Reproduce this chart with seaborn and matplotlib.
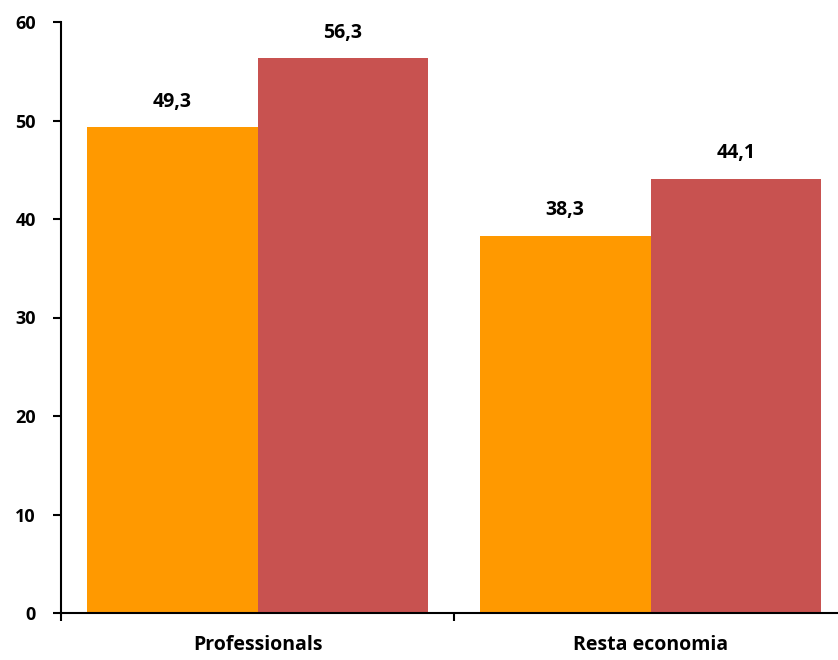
import pandas as pd
import matplotlib
matplotlib.use("Agg")
import matplotlib.pyplot as plt
import seaborn as sns

# chart data
categories = ["Professionals", "Resta economia"]
series = ["Sèrie 1", "Sèrie 2"]
values_s1 = [49.3, 38.3]
values_s2 = [56.3, 44.1]
colors = ["#FF9900", "#C85250"]

df = pd.DataFrame({
    "categoria": categories * 2,
    "serie": [series[0]] * 2 + [series[1]] * 2,
    "valor": values_s1 + values_s2,
})

sns.set_style("ticks", {"text.color": "black", "xtick.color": "black",
                        "ytick.color": "black", "axes.edgecolor": "black"})
plt.rcParams["font.family"] = ["Open Sans", "DejaVu Sans"]

fig = plt.figure(figsize=(8.38, 6.6), dpi=100)
ax = fig.add_axes([61 / 838, 47 / 660, 786 / 838, 591 / 660])

sns.barplot(data=df, x="categoria", y="valor", hue="serie", palette=colors,
            width=0.87, saturation=1, linewidth=0, ax=ax, legend=False)

for p in ax.patches:
    h = p.get_height()
    if h > 0:
        ax.text(p.get_x() + p.get_width() / 2, h + 1.6, f"{h:.1f}".replace(".", ","),
                ha="center", va="bottom", fontsize=14, fontweight="bold", color="black")

ax.set_ylim(0, 60)
ax.set_xlim(-0.5, 1.5)
ax.set_yticks(range(0, 61, 10))
ax.set_xlabel("")
ax.set_ylabel("")
sns.despine(ax=ax, top=True, right=True)
for s in ["left", "bottom"]:
    ax.spines[s].set_linewidth(1.5)
    ax.spines[s].set_color("black")

ax.tick_params(axis="y", left=True, direction="out", length=6, width=1.5,
               labelsize=13, pad=12, colors="black")
ax.tick_params(axis="x", which="major", bottom=False, length=0, labelsize=14, pad=16,
               colors="black")
ax.set_xticks([-0.5, 0.5, 1.5], minor=True)
ax.tick_params(axis="x", which="minor", bottom=True, direction="out", length=6,
               width=1.5, colors="black")
for lbl in ax.get_yticklabels() + ax.get_xticklabels():
    lbl.set_fontweight("bold")

fig.savefig("out.png", dpi=100)
